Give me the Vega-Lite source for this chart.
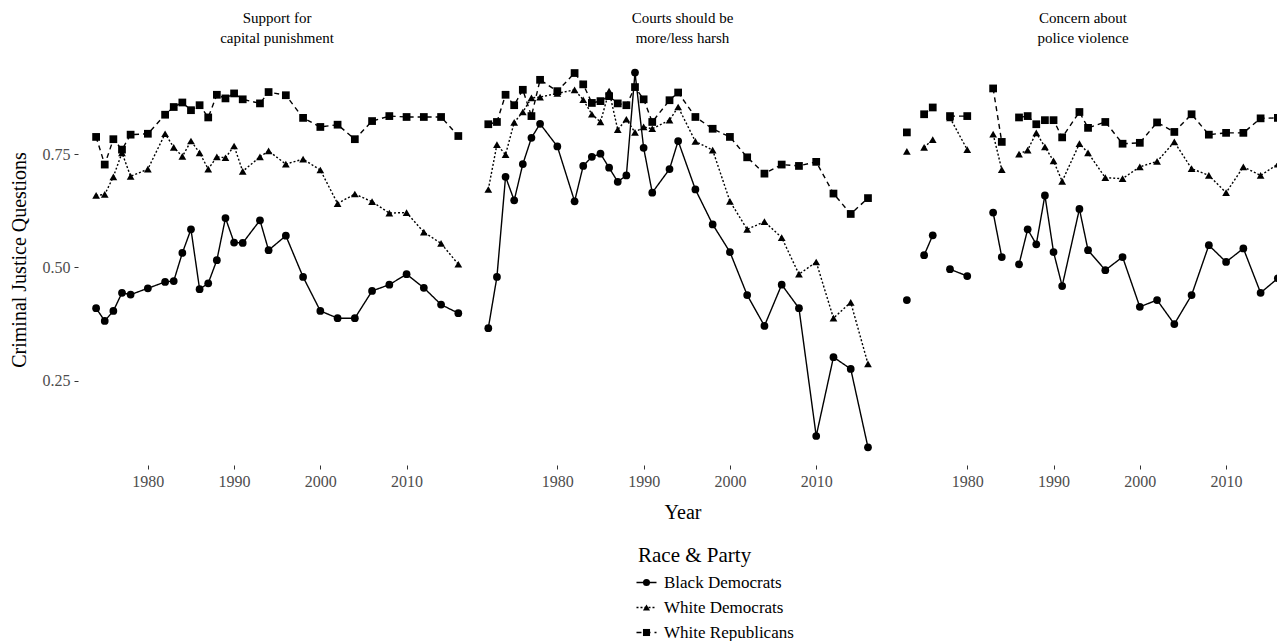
{
  "$schema": "https://vega.github.io/schema/vega-lite/v6.json",
  "background": "white",
  "padding": {"left": 9, "top": 11, "right": 0, "bottom": 0},
  "config": {
    "font": "Liberation Serif",
    "view": {"stroke": null},
    "axis": {"domain": false, "grid": false, "tickColor": "#333333", "tickSize": 4, "labelColor": "#4d4d4d", "labelFontSize": 16, "labelPadding": 4, "titleFontSize": 20, "titleFontWeight": "normal", "titleColor": "black"},
    "title": {"fontSize": 15, "fontWeight": "normal", "lineHeight": 20, "offset": 8, "color": "black", "anchor": "middle"},
    "legend": {"labelFontSize": 17, "labelColor": "black", "titleFontSize": 21, "titleFontWeight": "normal", "titleColor": "black", "titlePadding": 8, "symbolSize": 50, "rowPadding": 7, "labelOffset": 9, "direction": "vertical", "orient": "none"},
    "concat": {"spacing": 6}
  },
  "data": {"values": [
    {"q":"capital","year":1974,"group":"Black Democrats","value":0.410},
    {"q":"capital","year":1975,"group":"Black Democrats","value":0.382},
    {"q":"capital","year":1976,"group":"Black Democrats","value":0.404},
    {"q":"capital","year":1977,"group":"Black Democrats","value":0.444},
    {"q":"capital","year":1978,"group":"Black Democrats","value":0.440},
    {"q":"capital","year":1980,"group":"Black Democrats","value":0.454},
    {"q":"capital","year":1982,"group":"Black Democrats","value":0.468},
    {"q":"capital","year":1983,"group":"Black Democrats","value":0.470},
    {"q":"capital","year":1984,"group":"Black Democrats","value":0.532},
    {"q":"capital","year":1985,"group":"Black Democrats","value":0.584},
    {"q":"capital","year":1986,"group":"Black Democrats","value":0.452},
    {"q":"capital","year":1987,"group":"Black Democrats","value":0.465},
    {"q":"capital","year":1988,"group":"Black Democrats","value":0.516},
    {"q":"capital","year":1989,"group":"Black Democrats","value":0.609},
    {"q":"capital","year":1990,"group":"Black Democrats","value":0.555},
    {"q":"capital","year":1991,"group":"Black Democrats","value":0.554},
    {"q":"capital","year":1993,"group":"Black Democrats","value":0.604},
    {"q":"capital","year":1994,"group":"Black Democrats","value":0.538},
    {"q":"capital","year":1996,"group":"Black Democrats","value":0.570},
    {"q":"capital","year":1998,"group":"Black Democrats","value":0.479},
    {"q":"capital","year":2000,"group":"Black Democrats","value":0.404},
    {"q":"capital","year":2002,"group":"Black Democrats","value":0.388},
    {"q":"capital","year":2004,"group":"Black Democrats","value":0.388},
    {"q":"capital","year":2006,"group":"Black Democrats","value":0.448},
    {"q":"capital","year":2008,"group":"Black Democrats","value":0.462},
    {"q":"capital","year":2010,"group":"Black Democrats","value":0.485},
    {"q":"capital","year":2012,"group":"Black Democrats","value":0.455},
    {"q":"capital","year":2014,"group":"Black Democrats","value":0.418},
    {"q":"capital","year":2016,"group":"Black Democrats","value":0.399},
    {"q":"capital","year":1974,"group":"White Democrats","value":0.659},
    {"q":"capital","year":1975,"group":"White Democrats","value":0.661},
    {"q":"capital","year":1976,"group":"White Democrats","value":0.700},
    {"q":"capital","year":1977,"group":"White Democrats","value":0.753},
    {"q":"capital","year":1978,"group":"White Democrats","value":0.701},
    {"q":"capital","year":1980,"group":"White Democrats","value":0.717},
    {"q":"capital","year":1982,"group":"White Democrats","value":0.795},
    {"q":"capital","year":1983,"group":"White Democrats","value":0.765},
    {"q":"capital","year":1984,"group":"White Democrats","value":0.745},
    {"q":"capital","year":1985,"group":"White Democrats","value":0.779},
    {"q":"capital","year":1986,"group":"White Democrats","value":0.753},
    {"q":"capital","year":1987,"group":"White Democrats","value":0.717},
    {"q":"capital","year":1988,"group":"White Democrats","value":0.744},
    {"q":"capital","year":1989,"group":"White Democrats","value":0.742},
    {"q":"capital","year":1990,"group":"White Democrats","value":0.768},
    {"q":"capital","year":1991,"group":"White Democrats","value":0.712},
    {"q":"capital","year":1993,"group":"White Democrats","value":0.744},
    {"q":"capital","year":1994,"group":"White Democrats","value":0.757},
    {"q":"capital","year":1996,"group":"White Democrats","value":0.728},
    {"q":"capital","year":1998,"group":"White Democrats","value":0.739},
    {"q":"capital","year":2000,"group":"White Democrats","value":0.715},
    {"q":"capital","year":2002,"group":"White Democrats","value":0.641},
    {"q":"capital","year":2004,"group":"White Democrats","value":0.662},
    {"q":"capital","year":2006,"group":"White Democrats","value":0.645},
    {"q":"capital","year":2008,"group":"White Democrats","value":0.620},
    {"q":"capital","year":2010,"group":"White Democrats","value":0.621},
    {"q":"capital","year":2012,"group":"White Democrats","value":0.578},
    {"q":"capital","year":2014,"group":"White Democrats","value":0.553},
    {"q":"capital","year":2016,"group":"White Democrats","value":0.507},
    {"q":"capital","year":1974,"group":"White Republicans","value":0.788},
    {"q":"capital","year":1975,"group":"White Republicans","value":0.727},
    {"q":"capital","year":1976,"group":"White Republicans","value":0.783},
    {"q":"capital","year":1977,"group":"White Republicans","value":0.760},
    {"q":"capital","year":1978,"group":"White Republicans","value":0.793},
    {"q":"capital","year":1980,"group":"White Republicans","value":0.795},
    {"q":"capital","year":1982,"group":"White Republicans","value":0.837},
    {"q":"capital","year":1983,"group":"White Republicans","value":0.854},
    {"q":"capital","year":1984,"group":"White Republicans","value":0.864},
    {"q":"capital","year":1985,"group":"White Republicans","value":0.847},
    {"q":"capital","year":1986,"group":"White Republicans","value":0.858},
    {"q":"capital","year":1987,"group":"White Republicans","value":0.831},
    {"q":"capital","year":1988,"group":"White Republicans","value":0.881},
    {"q":"capital","year":1989,"group":"White Republicans","value":0.873},
    {"q":"capital","year":1990,"group":"White Republicans","value":0.884},
    {"q":"capital","year":1991,"group":"White Republicans","value":0.871},
    {"q":"capital","year":1993,"group":"White Republicans","value":0.862},
    {"q":"capital","year":1994,"group":"White Republicans","value":0.887},
    {"q":"capital","year":1996,"group":"White Republicans","value":0.880},
    {"q":"capital","year":1998,"group":"White Republicans","value":0.830},
    {"q":"capital","year":2000,"group":"White Republicans","value":0.810},
    {"q":"capital","year":2002,"group":"White Republicans","value":0.815},
    {"q":"capital","year":2004,"group":"White Republicans","value":0.783},
    {"q":"capital","year":2006,"group":"White Republicans","value":0.823},
    {"q":"capital","year":2008,"group":"White Republicans","value":0.834},
    {"q":"capital","year":2010,"group":"White Republicans","value":0.832},
    {"q":"capital","year":2012,"group":"White Republicans","value":0.832},
    {"q":"capital","year":2014,"group":"White Republicans","value":0.832},
    {"q":"capital","year":2016,"group":"White Republicans","value":0.790},

    {"q":"courts","year":1972,"group":"Black Democrats","value":0.366},
    {"q":"courts","year":1973,"group":"Black Democrats","value":0.479},
    {"q":"courts","year":1974,"group":"Black Democrats","value":0.700},
    {"q":"courts","year":1975,"group":"Black Democrats","value":0.648},
    {"q":"courts","year":1976,"group":"Black Democrats","value":0.728},
    {"q":"courts","year":1977,"group":"Black Democrats","value":0.786},
    {"q":"courts","year":1978,"group":"Black Democrats","value":0.817},
    {"q":"courts","year":1980,"group":"Black Democrats","value":0.767},
    {"q":"courts","year":1982,"group":"Black Democrats","value":0.646},
    {"q":"courts","year":1983,"group":"Black Democrats","value":0.724},
    {"q":"courts","year":1984,"group":"Black Democrats","value":0.744},
    {"q":"courts","year":1985,"group":"Black Democrats","value":0.751},
    {"q":"courts","year":1986,"group":"Black Democrats","value":0.720},
    {"q":"courts","year":1987,"group":"Black Democrats","value":0.689},
    {"q":"courts","year":1988,"group":"Black Democrats","value":0.703},
    {"q":"courts","year":1989,"group":"Black Democrats","value":0.930},
    {"q":"courts","year":1990,"group":"Black Democrats","value":0.764},
    {"q":"courts","year":1991,"group":"Black Democrats","value":0.665},
    {"q":"courts","year":1993,"group":"Black Democrats","value":0.717},
    {"q":"courts","year":1994,"group":"Black Democrats","value":0.779},
    {"q":"courts","year":1996,"group":"Black Democrats","value":0.672},
    {"q":"courts","year":1998,"group":"Black Democrats","value":0.595},
    {"q":"courts","year":2000,"group":"Black Democrats","value":0.534},
    {"q":"courts","year":2002,"group":"Black Democrats","value":0.439},
    {"q":"courts","year":2004,"group":"Black Democrats","value":0.371},
    {"q":"courts","year":2006,"group":"Black Democrats","value":0.462},
    {"q":"courts","year":2008,"group":"Black Democrats","value":0.410},
    {"q":"courts","year":2010,"group":"Black Democrats","value":0.128},
    {"q":"courts","year":2012,"group":"Black Democrats","value":0.302},
    {"q":"courts","year":2014,"group":"Black Democrats","value":0.276},
    {"q":"courts","year":2016,"group":"Black Democrats","value":0.103},
    {"q":"courts","year":1972,"group":"White Democrats","value":0.672},
    {"q":"courts","year":1973,"group":"White Democrats","value":0.771},
    {"q":"courts","year":1974,"group":"White Democrats","value":0.749},
    {"q":"courts","year":1975,"group":"White Democrats","value":0.820},
    {"q":"courts","year":1976,"group":"White Democrats","value":0.843},
    {"q":"courts","year":1977,"group":"White Democrats","value":0.874},
    {"q":"courts","year":1978,"group":"White Democrats","value":0.876},
    {"q":"courts","year":1980,"group":"White Democrats","value":0.884},
    {"q":"courts","year":1982,"group":"White Democrats","value":0.892},
    {"q":"courts","year":1983,"group":"White Democrats","value":0.870},
    {"q":"courts","year":1984,"group":"White Democrats","value":0.838},
    {"q":"courts","year":1985,"group":"White Democrats","value":0.821},
    {"q":"courts","year":1986,"group":"White Democrats","value":0.889},
    {"q":"courts","year":1987,"group":"White Democrats","value":0.804},
    {"q":"courts","year":1988,"group":"White Democrats","value":0.827},
    {"q":"courts","year":1989,"group":"White Democrats","value":0.798},
    {"q":"courts","year":1990,"group":"White Democrats","value":0.810},
    {"q":"courts","year":1991,"group":"White Democrats","value":0.806},
    {"q":"courts","year":1993,"group":"White Democrats","value":0.825},
    {"q":"courts","year":1994,"group":"White Democrats","value":0.854},
    {"q":"courts","year":1996,"group":"White Democrats","value":0.778},
    {"q":"courts","year":1998,"group":"White Democrats","value":0.759},
    {"q":"courts","year":2000,"group":"White Democrats","value":0.646},
    {"q":"courts","year":2002,"group":"White Democrats","value":0.584},
    {"q":"courts","year":2004,"group":"White Democrats","value":0.601},
    {"q":"courts","year":2006,"group":"White Democrats","value":0.566},
    {"q":"courts","year":2008,"group":"White Democrats","value":0.485},
    {"q":"courts","year":2010,"group":"White Democrats","value":0.512},
    {"q":"courts","year":2012,"group":"White Democrats","value":0.388},
    {"q":"courts","year":2014,"group":"White Democrats","value":0.423},
    {"q":"courts","year":2016,"group":"White Democrats","value":0.287},
    {"q":"courts","year":1972,"group":"White Republicans","value":0.816},
    {"q":"courts","year":1973,"group":"White Republicans","value":0.821},
    {"q":"courts","year":1974,"group":"White Republicans","value":0.881},
    {"q":"courts","year":1975,"group":"White Republicans","value":0.858},
    {"q":"courts","year":1976,"group":"White Republicans","value":0.892},
    {"q":"courts","year":1977,"group":"White Republicans","value":0.834},
    {"q":"courts","year":1978,"group":"White Republicans","value":0.914},
    {"q":"courts","year":1980,"group":"White Republicans","value":0.889},
    {"q":"courts","year":1982,"group":"White Republicans","value":0.929},
    {"q":"courts","year":1983,"group":"White Republicans","value":0.904},
    {"q":"courts","year":1984,"group":"White Republicans","value":0.863},
    {"q":"courts","year":1985,"group":"White Republicans","value":0.867},
    {"q":"courts","year":1986,"group":"White Republicans","value":0.878},
    {"q":"courts","year":1987,"group":"White Republicans","value":0.862},
    {"q":"courts","year":1988,"group":"White Republicans","value":0.858},
    {"q":"courts","year":1989,"group":"White Republicans","value":0.898},
    {"q":"courts","year":1990,"group":"White Republicans","value":0.871},
    {"q":"courts","year":1991,"group":"White Republicans","value":0.821},
    {"q":"courts","year":1993,"group":"White Republicans","value":0.869},
    {"q":"courts","year":1994,"group":"White Republicans","value":0.886},
    {"q":"courts","year":1996,"group":"White Republicans","value":0.832},
    {"q":"courts","year":1998,"group":"White Republicans","value":0.806},
    {"q":"courts","year":2000,"group":"White Republicans","value":0.788},
    {"q":"courts","year":2002,"group":"White Republicans","value":0.743},
    {"q":"courts","year":2004,"group":"White Republicans","value":0.707},
    {"q":"courts","year":2006,"group":"White Republicans","value":0.727},
    {"q":"courts","year":2008,"group":"White Republicans","value":0.724},
    {"q":"courts","year":2010,"group":"White Republicans","value":0.733},
    {"q":"courts","year":2012,"group":"White Republicans","value":0.663},
    {"q":"courts","year":2014,"group":"White Republicans","value":0.618},
    {"q":"courts","year":2016,"group":"White Republicans","value":0.653},

    {"q":"police","year":1973,"group":"Black Democrats","value":0.428},
    {"q":"police","year":1974,"group":"Black Democrats","value":null},
    {"q":"police","year":1975,"group":"Black Democrats","value":0.527},
    {"q":"police","year":1976,"group":"Black Democrats","value":0.571},
    {"q":"police","year":1977,"group":"Black Democrats","value":null},
    {"q":"police","year":1978,"group":"Black Democrats","value":0.496},
    {"q":"police","year":1980,"group":"Black Democrats","value":0.481},
    {"q":"police","year":1982,"group":"Black Democrats","value":null},
    {"q":"police","year":1983,"group":"Black Democrats","value":0.621},
    {"q":"police","year":1984,"group":"Black Democrats","value":0.523},
    {"q":"police","year":1985,"group":"Black Democrats","value":null},
    {"q":"police","year":1986,"group":"Black Democrats","value":0.507},
    {"q":"police","year":1987,"group":"Black Democrats","value":0.584},
    {"q":"police","year":1988,"group":"Black Democrats","value":0.551},
    {"q":"police","year":1989,"group":"Black Democrats","value":0.659},
    {"q":"police","year":1990,"group":"Black Democrats","value":0.534},
    {"q":"police","year":1991,"group":"Black Democrats","value":0.459},
    {"q":"police","year":1993,"group":"Black Democrats","value":0.629},
    {"q":"police","year":1994,"group":"Black Democrats","value":0.538},
    {"q":"police","year":1996,"group":"Black Democrats","value":0.494},
    {"q":"police","year":1998,"group":"Black Democrats","value":0.523},
    {"q":"police","year":2000,"group":"Black Democrats","value":0.413},
    {"q":"police","year":2002,"group":"Black Democrats","value":0.428},
    {"q":"police","year":2004,"group":"Black Democrats","value":0.375},
    {"q":"police","year":2006,"group":"Black Democrats","value":0.439},
    {"q":"police","year":2008,"group":"Black Democrats","value":0.549},
    {"q":"police","year":2010,"group":"Black Democrats","value":0.512},
    {"q":"police","year":2012,"group":"Black Democrats","value":0.542},
    {"q":"police","year":2014,"group":"Black Democrats","value":0.444},
    {"q":"police","year":2016,"group":"Black Democrats","value":0.476},
    {"q":"police","year":1973,"group":"White Democrats","value":0.756},
    {"q":"police","year":1974,"group":"White Democrats","value":null},
    {"q":"police","year":1975,"group":"White Democrats","value":0.765},
    {"q":"police","year":1976,"group":"White Democrats","value":0.782},
    {"q":"police","year":1977,"group":"White Democrats","value":null},
    {"q":"police","year":1978,"group":"White Democrats","value":0.830},
    {"q":"police","year":1980,"group":"White Democrats","value":0.760},
    {"q":"police","year":1982,"group":"White Democrats","value":null},
    {"q":"police","year":1983,"group":"White Democrats","value":0.794},
    {"q":"police","year":1984,"group":"White Democrats","value":0.716},
    {"q":"police","year":1985,"group":"White Democrats","value":null},
    {"q":"police","year":1986,"group":"White Democrats","value":0.750},
    {"q":"police","year":1987,"group":"White Democrats","value":0.759},
    {"q":"police","year":1988,"group":"White Democrats","value":0.797},
    {"q":"police","year":1989,"group":"White Democrats","value":0.766},
    {"q":"police","year":1990,"group":"White Democrats","value":0.735},
    {"q":"police","year":1991,"group":"White Democrats","value":0.690},
    {"q":"police","year":1993,"group":"White Democrats","value":0.773},
    {"q":"police","year":1994,"group":"White Democrats","value":0.753},
    {"q":"police","year":1996,"group":"White Democrats","value":0.698},
    {"q":"police","year":1998,"group":"White Democrats","value":0.696},
    {"q":"police","year":2000,"group":"White Democrats","value":0.722},
    {"q":"police","year":2002,"group":"White Democrats","value":0.734},
    {"q":"police","year":2004,"group":"White Democrats","value":0.777},
    {"q":"police","year":2006,"group":"White Democrats","value":0.718},
    {"q":"police","year":2008,"group":"White Democrats","value":0.703},
    {"q":"police","year":2010,"group":"White Democrats","value":0.665},
    {"q":"police","year":2012,"group":"White Democrats","value":0.722},
    {"q":"police","year":2014,"group":"White Democrats","value":0.703},
    {"q":"police","year":2016,"group":"White Democrats","value":0.728},
    {"q":"police","year":1973,"group":"White Republicans","value":0.798},
    {"q":"police","year":1974,"group":"White Republicans","value":null},
    {"q":"police","year":1975,"group":"White Republicans","value":0.838},
    {"q":"police","year":1976,"group":"White Republicans","value":0.853},
    {"q":"police","year":1977,"group":"White Republicans","value":null},
    {"q":"police","year":1978,"group":"White Republicans","value":0.834},
    {"q":"police","year":1980,"group":"White Republicans","value":0.834},
    {"q":"police","year":1982,"group":"White Republicans","value":null},
    {"q":"police","year":1983,"group":"White Republicans","value":0.895},
    {"q":"police","year":1984,"group":"White Republicans","value":0.777},
    {"q":"police","year":1985,"group":"White Republicans","value":null},
    {"q":"police","year":1986,"group":"White Republicans","value":0.831},
    {"q":"police","year":1987,"group":"White Republicans","value":0.834},
    {"q":"police","year":1988,"group":"White Republicans","value":0.816},
    {"q":"police","year":1989,"group":"White Republicans","value":0.825},
    {"q":"police","year":1990,"group":"White Republicans","value":0.825},
    {"q":"police","year":1991,"group":"White Republicans","value":0.787},
    {"q":"police","year":1993,"group":"White Republicans","value":0.843},
    {"q":"police","year":1994,"group":"White Republicans","value":0.808},
    {"q":"police","year":1996,"group":"White Republicans","value":0.821},
    {"q":"police","year":1998,"group":"White Republicans","value":0.773},
    {"q":"police","year":2000,"group":"White Republicans","value":0.775},
    {"q":"police","year":2002,"group":"White Republicans","value":0.820},
    {"q":"police","year":2004,"group":"White Republicans","value":0.799},
    {"q":"police","year":2006,"group":"White Republicans","value":0.838},
    {"q":"police","year":2008,"group":"White Republicans","value":0.793},
    {"q":"police","year":2010,"group":"White Republicans","value":0.797},
    {"q":"police","year":2012,"group":"White Republicans","value":0.797},
    {"q":"police","year":2014,"group":"White Republicans","value":0.829},
    {"q":"police","year":2016,"group":"White Republicans","value":0.830}
  ]},
  "resolve": {"scale": {"y": "shared", "strokeDash": "shared", "shape": "shared"}},
  "hconcat": [
    {
      "title": {"text": ["Support for", "capital punishment"]},
      "width": 398,
      "height": 411,
      "transform": [{"filter": "datum.q == 'capital'"}],
      "encoding": {
        "x": {"field": "year", "type": "quantitative", "scale": {"domain": [1971.9, 2018.05], "nice": false, "zero": false}, "axis": {"values": [1980, 1990, 2000, 2010], "format": "d", "title": null}},
        "y": {"field": "value", "type": "quantitative", "scale": {"domain": [0.064, 0.971], "nice": false, "zero": false}, "axis": {"values": [0.25, 0.5, 0.75], "format": ".2f", "title": "Criminal Justice Questions", "titlePadding": 13}}
      },
      "layer": [
        {
          "mark": {"type": "line", "color": "black", "strokeWidth": 1.4},
          "encoding": {
            "strokeDash": {"field": "group", "type": "nominal", "scale": {"domain": ["Black Democrats", "White Democrats", "White Republicans"], "range": [[1, 0], [2, 2], [5, 4]]},
              "legend": {"title": "Race & Party", "legendX": 560, "legendY": 491, "symbolType": "M-2.83,0H2.83", "symbolStrokeWidth": 1.4, "symbolStrokeColor": "black"}}
          }
        },
        {
          "mark": {"type": "point", "filled": true, "color": "black", "opacity": 1, "size": 60},
          "encoding": {
            "shape": {"field": "group", "type": "nominal", "scale": {"range": ["circle", "triangle-up", "square"]},
              "legend": {"title": null, "legendX": 560, "legendY": 520, "symbolFillColor": "black", "symbolStrokeWidth": 0, "symbolOpacity": 1, "labelOpacity": 0}}
          }
        }
      ]
    },
    {
      "title": {"text": ["Courts should be", "more/less harsh"]},
      "width": 401,
      "height": 411,
      "transform": [{"filter": "datum.q == 'courts'"}],
      "encoding": {
        "x": {"field": "year", "type": "quantitative", "scale": {"domain": [1971.27, 2017.74], "nice": false, "zero": false}, "axis": {"values": [1980, 1990, 2000, 2010], "format": "d", "title": "Year", "titlePadding": 13}},
        "y": {"field": "value", "type": "quantitative", "scale": {"domain": [0.064, 0.971], "nice": false, "zero": false}, "axis": null}
      },
      "layer": [
        {
          "mark": {"type": "line", "color": "black", "strokeWidth": 1.4},
          "encoding": {
            "strokeDash": {"field": "group", "type": "nominal", "scale": {"domain": ["Black Democrats", "White Democrats", "White Republicans"], "range": [[1, 0], [2, 2], [5, 4]]},
              "legend": {"title": "Race & Party", "legendX": 560, "legendY": 491, "symbolType": "M-2.83,0H2.83", "symbolStrokeWidth": 1.4, "symbolStrokeColor": "black"}}
          }
        },
        {
          "mark": {"type": "point", "filled": true, "color": "black", "opacity": 1, "size": 60},
          "encoding": {
            "shape": {"field": "group", "type": "nominal", "scale": {"range": ["circle", "triangle-up", "square"]},
              "legend": {"title": null, "legendX": 560, "legendY": 520, "symbolFillColor": "black", "symbolStrokeWidth": 0, "symbolOpacity": 1, "labelOpacity": 0}}
          }
        }
      ]
    },
    {
      "title": {"text": ["Concern about", "police violence"]},
      "width": 388,
      "height": 411,
      "transform": [{"filter": "datum.q == 'police'"}],
      "encoding": {
        "x": {"field": "year", "type": "quantitative", "scale": {"domain": [1970.93, 2015.9], "nice": false, "zero": false}, "axis": {"values": [1980, 1990, 2000, 2010], "format": "d", "title": null}},
        "y": {"field": "value", "type": "quantitative", "scale": {"domain": [0.064, 0.971], "nice": false, "zero": false}, "axis": null}
      },
      "layer": [
        {
          "mark": {"type": "line", "color": "black", "strokeWidth": 1.4, "clip": true},
          "encoding": {
            "strokeDash": {"field": "group", "type": "nominal", "scale": {"domain": ["Black Democrats", "White Democrats", "White Republicans"], "range": [[1, 0], [2, 2], [5, 4]]},
              "legend": {"title": "Race & Party", "legendX": 560, "legendY": 491, "symbolType": "M-2.83,0H2.83", "symbolStrokeWidth": 1.4, "symbolStrokeColor": "black"}}
          }
        },
        {
          "mark": {"type": "point", "filled": true, "color": "black", "opacity": 1, "size": 60, "clip": true},
          "encoding": {
            "shape": {"field": "group", "type": "nominal", "scale": {"range": ["circle", "triangle-up", "square"]},
              "legend": {"title": null, "legendX": 560, "legendY": 520, "symbolFillColor": "black", "symbolStrokeWidth": 0, "symbolOpacity": 1, "labelOpacity": 0}}
          }
        }
      ]
    }
  ]
}
